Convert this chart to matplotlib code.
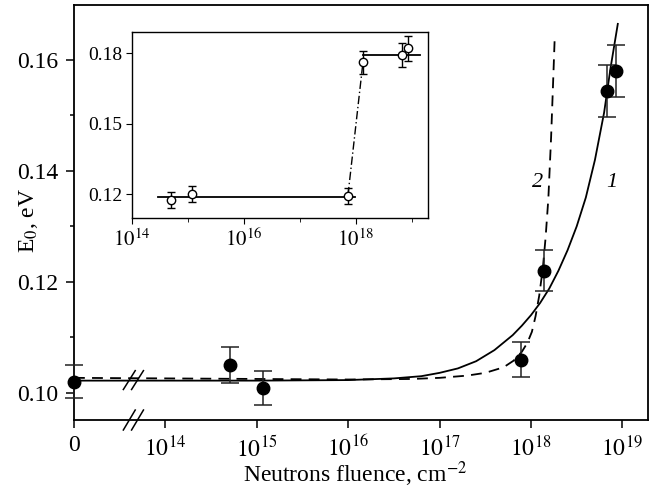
import numpy as np
import matplotlib
matplotlib.use("Agg")
import matplotlib.pyplot as plt

plt.rcParams['font.family'] = ['Liberation Serif', 'DejaVu Serif']
plt.rcParams['mathtext.fontset'] = 'stix'

# main panel: measured points (fluence in cm^-2, E0 in eV)
fluence = [0, 5.1e14, 1.17e15, 7.8e17, 1.38e18, 6.8e18, 8.5e18]
e0 = [0.1020, 0.1050, 0.1009, 0.1060, 0.1220, 0.1544, 0.1580]
e0_err = [0.0030, 0.0033, 0.0031, 0.0031, 0.0037, 0.0046, 0.0047]

# curve 1 (solid) and curve 2 (dashed), log10(fluence)
curve1_lg = [13.0, 14.0, 15.0, 16.0, 16.5, 16.8, 17.0, 17.2, 17.4, 17.6, 17.8,
             17.9, 18.0, 18.1, 18.2, 18.3, 18.4, 18.5, 18.6, 18.7, 18.8, 18.87, 18.95]
curve1_e = [0.1022, 0.1022, 0.1022, 0.1023, 0.1026, 0.1030, 0.1036, 0.1044, 0.1057,
            0.1077, 0.1104, 0.1121, 0.1140, 0.1162, 0.1188, 0.1220, 0.1257, 0.1300,
            0.1352, 0.1420, 0.1505, 0.1585, 0.1665]
curve2_lg = [13.0, 14.0, 15.0, 16.0, 16.7, 17.0, 17.3, 17.5, 17.7, 17.81, 17.9,
             17.96, 18.01, 18.05, 18.09, 18.13, 18.16, 18.19, 18.22, 18.24, 18.26]
curve2_e = [0.1027, 0.1026, 0.1025, 0.1024, 0.1025, 0.1027, 0.1031, 0.1036, 0.1046,
            0.1058, 0.1074, 0.1090, 0.1110, 0.1138, 0.1175, 0.1225, 0.1280, 0.1350,
            0.1460, 0.1550, 0.1642]

xtick_pos = [13, 14, 15, 16, 17, 18, 19]
xtick_lab = ['0', '$10^{14}$', '$10^{15}$', '$10^{16}$', '$10^{17}$', '$10^{18}$', '$10^{19}$']

# inset data
in_fluence = [5.0e14, 1.17e15, 7.2e17, 1.35e18, 6.6e18, 8.5e18]
in_e0 = [0.1174, 0.1200, 0.1192, 0.1762, 0.1791, 0.1821]
in_err = [0.0034, 0.0034, 0.0035, 0.0049, 0.0051, 0.0053]
low_x = [10**14.46, 10**17.98]
low_y = [0.1187, 0.1187]
step_x = [10**17.86, 10**18.13]
step_y = [0.1195, 0.1765]
high_x = [10**18.13, 10**19.14]
high_y = [0.1791, 0.1791]

fig = plt.figure(figsize=(6.53, 4.97), dpi=100)
ax = fig.add_axes([0.1133, 0.1549, 0.8790, 0.8350])

xpos = [13.0 if f == 0 else np.log10(f) for f in fluence]
ax.plot(curve1_lg, curve1_e, color='black', lw=1.3)
ax.plot(curve2_lg, curve2_e, color='black', lw=1.3, linestyle=(0, (6, 4)))
ax.errorbar(xpos, e0, yerr=e0_err, fmt='o', color='black', ms=9,
            ecolor='#222222', elinewidth=1.1, capsize=6.5, capthick=1.1,
            clip_on=False, zorder=5)

ax.set_xlim(13.0, 19.28)
ax.set_ylim(0.0951, 0.1699)
ax.set_xticks(xtick_pos)
ax.set_xticklabels(xtick_lab)
ax.set_yticks([0.10, 0.12, 0.14, 0.16])
ax.set_yticklabels(['0.10', '0.12', '0.14', '0.16'])
ax.set_yticks([0.11, 0.13, 0.15], minor=True)
ax.tick_params(axis='both', which='major', direction='out', length=6, width=1.1,
               labelsize=17, pad=5)
ax.tick_params(axis='y', which='minor', direction='out', length=3, width=1.1)
for s in ax.spines.values():
    s.set_linewidth(1.3)

# axis break marks
for dx in (0.0, 0.09):
    ax.plot([13.54 + dx, 13.67 + dx], [0.0933, 0.0969], color='black', lw=1.1,
            clip_on=False)
    ax.plot([13.54 + dx, 13.67 + dx], [0.1006, 0.1040], color='black', lw=1.1,
            clip_on=False)

ax.text(18.07, 0.1380, '2', fontsize=16, style='italic', ha='center', va='center')
ax.text(18.88, 0.1380, '1', fontsize=16, style='italic', ha='center', va='center')

fig.text(0.544, 0.045, r'Neutrons fluence, cm$^{-2}$', fontsize=17, ha='center',
         va='center')
fig.text(0.043, 0.557, r'E$_0$, eV', fontsize=17, rotation=90, ha='center',
         va='center')

# inset
ins = fig.add_axes([0.2021, 0.5614, 0.4533, 0.3742])
ins.plot(low_x, low_y, color='black', lw=1.3)
ins.plot(high_x, high_y, color='black', lw=1.3)
ins.plot(step_x, step_y, color='black', lw=1.0, linestyle=(0, (6, 2, 1, 2)))
ins.errorbar(in_fluence, in_e0, yerr=in_err, fmt='o', mfc='white', mec='black',
             ms=6, mew=1.0, ecolor='black', elinewidth=1.0, capsize=3, capthick=1.0,
             zorder=5)
ins.set_xscale('log')
ins.set_xlim(1e14, 10**19.29)
ins.set_ylim(0.1098, 0.1890)
ins.set_xticks([1e14, 1e16, 1e18])
ins.set_xticklabels(['$10^{14}$', '$10^{16}$', '$10^{18}$'])
ins.set_xticks([1e15, 1e17, 1e19], minor=True)
ins.set_xticklabels([], minor=True)
ins.set_yticks([0.12, 0.15, 0.18])
ins.set_yticklabels(['0.12', '0.15', '0.18'])
ins.tick_params(axis='x', which='major', direction='out', length=4, labelsize=15, pad=4)
ins.tick_params(axis='x', which='minor', direction='out', length=3)
ins.tick_params(axis='y', which='major', direction='out', length=4, labelsize=14, pad=3)
for s in ins.spines.values():
    s.set_linewidth(1.0)

fig.savefig('out.png', dpi=100)
